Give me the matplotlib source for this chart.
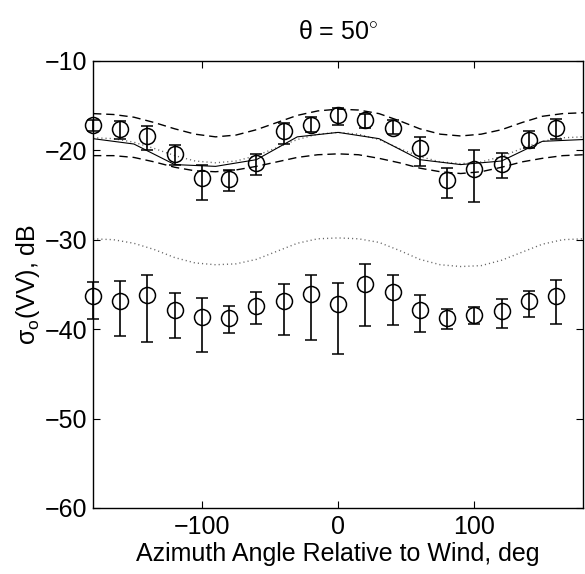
import numpy as np
import matplotlib
matplotlib.use('Agg')
import matplotlib.pyplot as plt

plt.rcParams['font.family'] = ['Liberation Sans', 'DejaVu Sans']
plt.rcParams['mathtext.fontset'] = 'custom'
plt.rcParams['mathtext.rm'] = 'Liberation Sans'
plt.rcParams['mathtext.it'] = 'Liberation Sans:italic'

# measured points (azimuth, deg)
az = [-180, -160, -140, -120, -100, -80, -60, -40, -20, 0, 20, 40, 60, 80, 100, 120, 140, 160]

# upper set
up_mean = [-17.2, -17.6, -18.4, -20.4, -23.1, -23.2, -21.4, -17.9, -17.2, -16.1, -16.6, -17.5, -19.8, -23.3, -22.1, -21.5, -18.8, -17.5]
up_hi = [-16.6, -16.7, -17.3, -19.4, -21.6, -22.2, -20.4, -16.9, -16.3, -15.3, -15.9, -16.6, -18.5, -22.0, -20.0, -20.3, -17.9, -16.5]
up_lo = [-17.8, -18.7, -20.0, -21.6, -25.6, -24.6, -22.8, -19.3, -18.0, -17.2, -17.5, -18.2, -21.8, -25.3, -25.8, -23.1, -19.7, -18.7]

# lower set
lo_mean = [-36.3, -36.8, -36.2, -37.85, -38.6, -38.7, -37.4, -36.9, -36.1, -37.2, -35.0, -35.9, -37.85, -38.8, -38.4, -38.0, -36.9, -36.3]
lo_hi = [-34.7, -34.6, -34.0, -36.0, -36.5, -37.4, -35.9, -34.9, -33.9, -34.8, -32.75, -33.9, -36.2, -37.7, -37.5, -36.6, -35.7, -34.5]
lo_lo = [-38.9, -40.75, -41.4, -41.0, -42.6, -40.4, -39.4, -40.7, -41.2, -42.8, -39.6, -39.5, -40.3, -40.0, -39.4, -39.9, -38.6, -39.4]

# model curve, 30 deg steps
az_m = [-180, -150, -120, -90, -60, -30, 0, 30, 60, 90, 120, 150, 180]
model = [-18.7, -19.3, -21.6, -21.8, -21.05, -18.5, -18.0, -18.7, -21.05, -21.6, -21.2, -19.0, -18.8]

# smooth curves, 15 deg steps
az_s = list(range(-180, 181, 15))
dot_up = [-18.6, -18.7, -19.1, -19.8, -20.6, -21.2, -21.4, -21.2, -20.6, -19.7, -18.8, -18.2, -18.0,
          -18.2, -18.8, -19.8, -20.7, -21.3, -21.5, -21.3, -20.7, -19.8, -19.0, -18.6, -18.5]
dash_hi = [-15.9, -16.0, -16.3, -16.9, -17.6, -18.2, -18.5, -18.3, -17.7, -16.9, -16.1, -15.6, -15.4,
           -15.5, -15.9, -16.7, -17.6, -18.2, -18.4, -18.2, -17.7, -16.9, -16.2, -15.9, -15.8]
dash_lo = [-20.6, -20.6, -20.8, -21.3, -21.9, -22.3, -22.4, -22.2, -21.8, -21.3, -20.8, -20.5, -20.4,
           -20.5, -20.9, -21.4, -22.0, -22.4, -22.6, -22.4, -21.9, -21.3, -20.9, -20.6, -20.5]
dot_lo = [-29.9, -30.0, -30.4, -31.1, -32.0, -32.6, -32.8, -32.7, -32.2, -31.3, -30.4, -29.9, -29.8,
          -29.9, -30.3, -31.2, -32.2, -32.8, -33.0, -32.9, -32.3, -31.4, -30.5, -30.0, -29.9]

fig = plt.figure(figsize=(5.85, 5.74), dpi=100)
ax = fig.add_axes([0.159, 0.115, 0.838, 0.779])

ax.plot(az_s, dash_hi, 'k-', lw=1.0, dashes=(6, 3.5))
ax.plot(az_s, dash_lo, 'k-', lw=1.0, dashes=(6, 3.5))
ax.plot(az_s, dot_up, '-', color='0.4', lw=1.0, dashes=(0.8, 2.2))
ax.plot(az_s, dot_lo, '-', color='0.4', lw=1.0, dashes=(0.8, 2.2))
ax.plot(az_m, model, 'k-', lw=0.8)

for m, hi, lo in [(up_mean, up_hi, up_lo), (lo_mean, lo_hi, lo_lo)]:
    m = np.array(m)
    err = [m - np.array(lo), np.array(hi) - m]
    ax.errorbar(az, m, yerr=err, fmt='o', mfc='none', mec='k', mew=1.1, ms=11.5,
                ecolor='k', elinewidth=1.2, capsize=4.2, capthick=1.2, clip_on=False)

ax.set_xlim(-180, 180)
ax.set_ylim(-60, -10)
ax.set_xticks([-100, 0, 100])
ax.set_xticklabels(['\u2212100', '0', '100'])
ax.set_yticks([-60, -50, -40, -30, -20, -10])
ax.set_yticklabels(['\u221260', '\u221250', '\u221240', '\u221230', '\u221220', '\u221210'])
ax.tick_params(direction='in', top=True, right=True, labelsize=18, length=5, width=0.8)
ax.tick_params(axis='x', pad=5)
ax.tick_params(axis='y', pad=4)
for s in ax.spines.values():
    s.set_linewidth(1.0)
ax.set_xlabel('Azimuth Angle Relative to Wind, deg', fontsize=18, labelpad=2)
ax.set_ylabel('\u03c3$_\\mathrm{o}$(VV), dB', fontsize=18, labelpad=2)
ax.set_title('\u03b8 = 50$^{\\circ}$', fontsize=18, pad=16)

fig.savefig('out.png', dpi=100)
